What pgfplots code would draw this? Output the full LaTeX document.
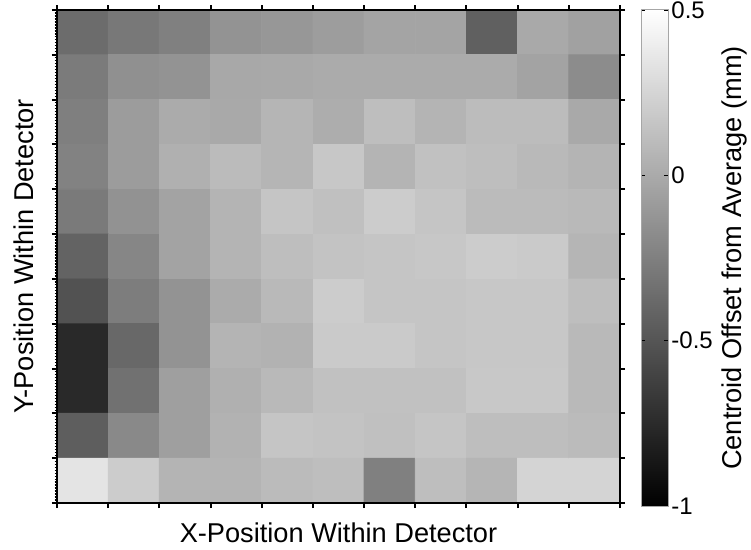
\documentclass[border=0pt]{standalone}
\usepackage{fontspec}
\setmainfont{Liberation Sans}
\usepackage{pgfplots}
\usepackage{pgfplotstable}
\pgfplotsset{compat=1.18}

% Centroid offset (mm) per detector cell; row 1 is the top row.
\pgfplotstableread{
x y c
1 1 -0.37
2 1 -0.30
3 1 -0.25
4 1 -0.14
5 1 -0.12
6 1 -0.08
7 1 -0.04
8 1 -0.04
9 1 -0.44
10 1 -0.01
11 1 -0.06
1 2 -0.28
2 2 -0.16
3 2 -0.14
4 2 -0.02
5 2 -0.01
6 2 0.00
7 2 0.00
8 2 0.00
9 2 0.00
10 2 -0.05
11 2 -0.18
1 3 -0.26
2 3 -0.09
3 3 0.00
4 3 -0.01
5 3 0.06
6 3 0.01
7 3 0.11
8 3 0.05
9 3 0.10
10 3 0.10
11 3 -0.01
1 4 -0.24
2 4 -0.09
3 4 0.03
4 4 0.09
5 4 0.06
6 4 0.16
7 4 0.05
8 4 0.13
9 4 0.11
10 4 0.08
11 4 0.05
1 5 -0.29
2 5 -0.15
3 5 -0.05
4 5 0.05
5 5 0.15
6 5 0.12
7 5 0.19
8 5 0.15
9 5 0.09
10 5 0.09
11 5 0.08
1 6 -0.42
2 6 -0.22
3 6 -0.05
4 6 0.05
5 6 0.11
6 6 0.14
7 6 0.15
8 6 0.16
9 6 0.19
10 6 0.18
11 6 0.06
1 7 -0.52
2 7 -0.27
3 7 -0.14
4 7 0.00
5 7 0.08
6 7 0.19
7 7 0.15
8 7 0.15
9 7 0.16
10 7 0.16
11 7 0.11
1 8 -0.76
2 8 -0.39
3 8 -0.14
4 8 0.05
5 8 0.04
6 8 0.18
7 8 0.18
8 8 0.15
9 8 0.16
10 8 0.16
11 8 0.08
1 9 -0.76
2 9 -0.34
3 9 -0.07
4 9 0.03
5 9 0.08
6 9 0.13
7 9 0.13
8 9 0.13
9 9 0.17
10 9 0.17
11 9 0.08
1 10 -0.45
2 10 -0.20
3 10 -0.07
4 10 0.04
5 10 0.15
6 10 0.14
7 10 0.12
8 10 0.15
9 10 0.11
10 10 0.11
11 10 0.09
1 11 0.33
2 11 0.19
3 11 0.05
4 11 0.05
5 11 0.09
6 11 0.11
7 11 -0.25
8 11 0.11
9 11 0.06
10 11 0.24
11 11 0.24
}\offsets

\newcommand{\labelfont}{\fontsize{13.6bp}{16bp}\selectfont}
\newcommand{\tickfont}{\fontsize{12bp}{14bp}\selectfont}

\begin{document}
\begin{tikzpicture}
\path[use as bounding box] (-28.5bp,-23.5bp) rectangle (347bp,251.5bp);

\begin{axis}[
  at={(0,0)}, anchor=south west,
  scale only axis,
  width=281.5bp, height=246.5bp,
  xmin=0.5, xmax=11.5, ymin=0.5, ymax=11.5,
  y dir=reverse,
  axis on top,
  xtick={0.5,1.5,...,11.5}, ytick={0.5,1.5,...,11.5},
  xticklabels={}, yticklabels={},
  tick align=outside,
  major tick length=2.5bp,
  tick style={black, line width=1bp},
  axis line style={black, line width=1.1bp},
  colormap={bw}{gray(0cm)=(0); gray(1cm)=(1)},
  point meta min=-1, point meta max=0.5,
  xlabel={X-Position Within Detector},
  ylabel={Y-Position Within Detector},
  every axis x label/.style={at={(axis description cs:0.5,-0.0791)}, anchor=base, font=\labelfont},
  every axis y label/.style={at={(axis description cs:-0.0409,0.5)}, rotate=90, anchor=base, font=\labelfont},
  colorbar,
  colorbar style={
    at={(parent axis.north east)}, anchor=north west,
    xshift=2bp,
    scale only axis,
    width=13.5bp, height=248bp,
    ytick={-1,-0.5,0,0.5},
    yticklabels={-1,-0.5,0,0.5},
    ytick pos=both,
    yticklabel pos=right,
    tick align=inside,
    major tick length=2bp,
    tick style={black, line width=0.6bp},
    axis line style={gray!70, line width=0.5bp},
    yticklabel style={font=\tickfont, inner sep=0pt, xshift=1.5bp, anchor=west},
    ylabel={Centroid Offset from Average (mm)},
    every axis y label/.style={at={(axis description cs:3.7037,0.5)}, rotate=90, anchor=base, font=\labelfont},
  },
]
\addplot[matrix plot*, mesh/cols=11, mesh/rows=11, point meta=explicit]
  table[x=x, y=y, meta=c] {\offsets};
\end{axis}

% fine minor ticks along the left edge
\begin{axis}[
  at={(0,0)}, anchor=south west,
  scale only axis,
  width=281.5bp, height=246.5bp,
  xmin=0.5, xmax=11.5, ymin=0.5, ymax=11.5,
  y dir=reverse,
  hide x axis,
  axis y line*=left,
  ytick={0.5,1.5,...,11.5}, yticklabels={},
  minor y tick num=14,
  tick align=outside,
  major tick length=2.5bp,
  minor tick length=1.2bp,
  tick style={black, line width=0.6bp},
  major tick style={line width=1bp},
  axis line style={black, line width=1.1bp},
]
\end{axis}
\end{tikzpicture}
\end{document}
